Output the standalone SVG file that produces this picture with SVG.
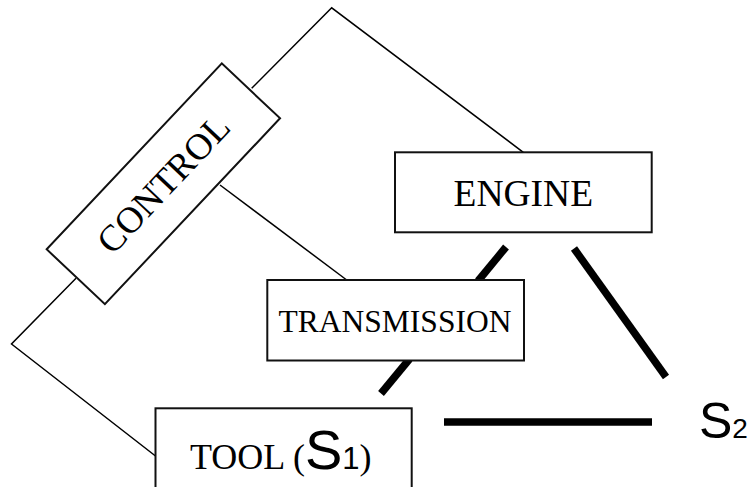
<svg xmlns="http://www.w3.org/2000/svg" width="754" height="487" viewBox="0 0 754 487">
  <style>
    .box { fill: #fff; stroke: #111; stroke-width: 2; }
    .thin { fill: none; stroke: #000; stroke-width: 1.5; stroke-linejoin: miter; }
    .thick { fill: none; stroke: #000; stroke-width: 7.5; stroke-linecap: butt; }
    .label { font-family: "Liberation Serif", "Times New Roman", serif; font-size: 36px; fill: #000; }
    .sans { font-family: "Liberation Sans", Arial, sans-serif; fill: #000; }
  </style>
  <rect width="754" height="487" fill="#fff"/>

  <!-- connectors -->
  <g id="connectors">
    <!-- control links (thin) -->
    <polyline class="thin" points="251.7,88.3 331.7,7.8 523.3,152.3"/>
    <polyline class="thin" points="220,185 346.7,280"/>
    <polyline class="thin" points="76,278.3 11.5,344 155.5,456"/>
    <!-- power / motion links (thick) -->
    <line class="thick" x1="506" y1="247" x2="478" y2="281"/>
    <line class="thick" x1="574" y1="248.5" x2="666" y2="377"/>
    <line class="thick" x1="409.5" y1="359" x2="381" y2="393.5"/>
    <line class="thick" x1="444" y1="422" x2="652" y2="422"/>
  </g>

  <!-- control -->
  <g id="control" transform="translate(163.35,183.8) rotate(-46.7)">
    <rect class="box" x="-127.7" y="-40" width="255.4" height="80"/>
    <text class="label" x="0" y="12.5" text-anchor="middle" style="font-size:37px">CONTROL</text>
  </g>

  <!-- engine -->
  <g id="engine">
    <rect class="box" x="395" y="152.3" width="256.7" height="80"/>
    <text class="label" x="523.3" y="205.7" text-anchor="middle" style="font-size:37.5px">ENGINE</text>
  </g>

  <!-- transmission -->
  <g id="transmission">
    <rect class="box" x="267.3" y="280" width="256.7" height="80.5"/>
    <text class="label" x="395" y="331.7" text-anchor="middle" style="font-size:31.5px">TRANSMISSION</text>
  </g>

  <!-- tool (S1) -->
  <g id="tool">
    <rect class="box" x="155.5" y="408.3" width="256.2" height="100"/>
    <text class="label" x="190" y="469">TOOL (<tspan class="sans" style="font-size:56px">S</tspan><tspan class="sans" style="font-size:31px">1</tspan>)</text>
  </g>

  <!-- S2 -->
  <g id="s2">
    <text class="sans" x="699" y="437.5"><tspan style="font-size:50px">S</tspan><tspan style="font-size:28px">2</tspan></text>
  </g>
</svg>
